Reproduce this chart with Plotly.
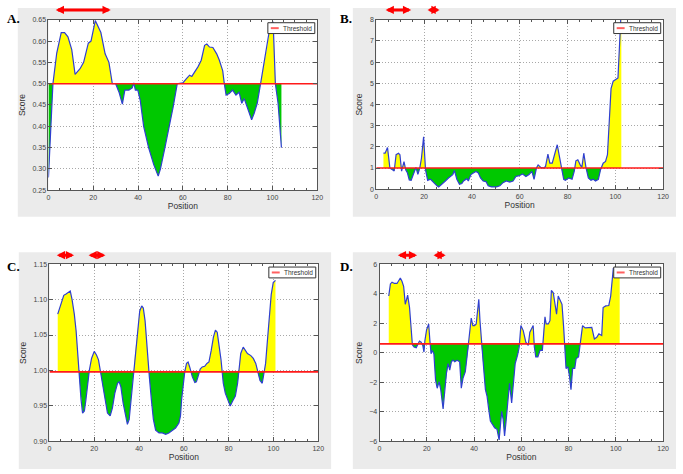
import plotly.graph_objects as go

# ---------------- data ----------------
posA = [0, 1, 2, 3.7, 5.7, 7.2, 8.7, 10.4, 11.9, 14.1, 15.7, 17.8, 19, 20.9, 23.4, 25.3, 27, 28.5,
        30, 31.5, 33, 34.1, 35.9, 37.4, 38.1, 38.8, 39.9, 41, 42.5, 44.7, 47, 49, 50, 52, 54.3,
        55.7, 57.5, 60, 61.6, 63, 64, 65.3, 66.8, 68.2, 69.7, 70.7, 71.9, 73.4, 75.1, 76.3, 77.8,
        78.5, 79.3, 80.7, 82.2, 83.7, 85.1, 86.3, 87.4, 88.4, 89.6, 90.7, 91.8, 93.2, 94.7, 96.2,
        97.6, 99.1, 100.3, 101.3, 102.5, 104]
scoreA = [0.28, 0.40, 0.50, 0.572, 0.62, 0.62, 0.61, 0.58, 0.522, 0.535, 0.55, 0.595, 0.60, 0.648,
          0.62, 0.57, 0.55, 0.50, 0.50, 0.48, 0.452, 0.485, 0.485, 0.49, 0.502, 0.485, 0.485, 0.46,
          0.40, 0.35, 0.31, 0.283, 0.30, 0.35, 0.407, 0.446, 0.50, 0.502, 0.512, 0.52, 0.517, 0.527,
          0.54, 0.555, 0.59, 0.593, 0.586, 0.585, 0.57, 0.555, 0.53, 0.50, 0.473, 0.477, 0.485,
          0.473, 0.48, 0.454, 0.465, 0.45, 0.43, 0.415, 0.43, 0.454, 0.50, 0.547, 0.585, 0.64,
          0.645, 0.50, 0.454, 0.35]
thresholdA = 0.50

posB = [3, 3.7, 4.7, 5.7, 6.8, 7.5, 8.3, 9.3, 9.9, 10.6, 11.6, 12.3, 13, 13.8, 14.6, 15.5, 16.6,
        17.4, 18.2, 18.9, 19.8, 20.6, 21.5, 22.7, 24, 25.4, 26.1, 27.5, 28.9, 30.2, 31.4, 32, 32.7,
        33.7, 34.8, 35.8, 36.5, 37.9, 38.5, 39.6, 40.6, 41.7, 42.7, 43.6, 44.7, 45.9, 46.8, 48.2,
        50.3, 51.7, 53, 54.4, 55.8, 57.2, 58.4, 59.8, 61.2, 62.6, 63.9, 65.1, 66, 67, 67.7, 68.8,
        70.1, 70.8, 71.8, 72.6, 73.6, 74.6, 75.7, 76.6, 77.4, 78.4, 79.1, 80.5, 81.9, 82.8, 83.5,
        84.3, 85.3, 86, 86.8, 87.7, 88.7, 89.8, 90.8, 91.7, 92.9, 93.8, 94.9, 95.9, 96.7, 97.5,
        98.2, 99.1, 101.1, 102.5]
scoreB = [1.7, 1.7, 1.97, 1.0, 0.92, 0.86, 1.63, 1.7, 1.63, 0.85, 1.3, 0.92, 0.78, 0.44, 0.42,
          0.7, 1.03, 0.7, 1.0, 1.46, 2.47, 0.92, 0.42, 0.47, 0.31, 0.16, 0.11, 0.23, 0.39, 0.53,
          0.61, 0.69, 0.88, 0.47, 0.23, 0.27, 0.39, 0.5, 0.39, 0.69, 0.77, 0.84, 0.77, 0.53, 0.39,
          0.36, 0.16, 0.11, 0.11, 0.16, 0.31, 0.39, 0.34, 0.39, 0.6, 0.64, 0.72, 0.6, 0.69, 0.84,
          0.47, 1.0, 1.15, 1.03, 1.0, 1.08, 1.66, 1.23, 1.23, 1.63, 2.1, 1.55, 1.0, 0.47, 0.42,
          0.53, 0.47, 0.84, 1.34, 1.39, 1.15, 1.03, 1.7, 1.03, 0.53, 0.42, 0.47, 0.39, 0.47, 0.92,
          1.23, 1.31, 1.63, 3.5, 4.75, 5.1, 5.25, 8.6]
thresholdB = 1.0

posC = [3.7, 5.2, 6.4, 7.4, 8.6, 9.3, 10.1, 11.1, 11.9, 12.6, 13.3, 14.1, 14.8, 15.6, 16.3, 17,
        17.8, 18.8, 20, 21, 21.9, 22.7, 23.7, 24.7, 25.9, 27.1, 28.1, 29.2, 30.4, 31.1, 31.9, 32.9,
        34.1, 34.8, 35.6, 36.3, 37.3, 38.2, 39.3, 40.3, 41.2, 41.9, 42.7, 43.7, 44.6, 45.5, 46.4,
        47.4, 48.9, 50.4, 51.9, 53.3, 54.8, 56.3, 57.8, 58.5, 59, 59.7, 60.4, 61.2, 61.9, 62.6,
        63.8, 64.9, 65.6, 66.3, 67.3, 68.2, 69.3, 70.3, 71.2, 72.2, 73.2, 74.1, 74.9, 75.6, 76.6,
        77.6, 78.5, 79.6, 80.7, 81.8, 83, 84, 84.7, 85.4, 86.5, 87.4, 88.4, 89.9, 91, 92.1, 93.1,
        94, 95, 95.7, 96.5, 97.2, 98, 99, 99.9, 100.9]
scoreC = [1.0795, 1.093, 1.106, 1.108, 1.111, 1.112, 1.100, 1.0795, 1.056, 1.024, 0.991, 0.959,
          0.94, 0.943, 0.959, 0.982, 1.0, 1.017, 1.027, 1.022, 1.015, 1.0, 0.98, 0.959, 0.94,
          0.936, 0.947, 0.968, 0.982, 0.984, 0.977, 0.954, 0.931, 0.924, 0.931, 0.954, 0.987,
          1.024, 1.061, 1.084, 1.091, 1.088, 1.07, 1.024, 0.991, 0.959, 0.931, 0.916, 0.912,
          0.912, 0.910, 0.912, 0.916, 0.919, 0.926, 0.936, 0.959, 0.982, 0.998, 1.01, 1.012,
          1.005, 0.991, 0.983, 0.984, 0.991, 1.002, 1.005, 1.006, 1.01, 1.012, 1.028, 1.047,
          1.057, 1.054, 1.038, 1.015, 0.982, 0.968, 0.959, 0.95, 0.957, 0.964, 0.982, 1.005,
          1.024, 1.033, 1.028, 1.024, 1.021, 1.017, 1.01, 0.996, 0.986, 0.982, 0.994, 1.01, 1.038,
          1.07, 1.107, 1.124, 1.127]
thresholdC = 0.998

posD = [3.9, 4.6, 5.3, 6.3, 7.4, 8.1, 8.8, 9.5, 10.2, 10.9, 11.9, 12.7, 13.2, 13.9, 14.6, 15.5,
        16, 16.9, 17.6, 18.3, 18.8, 19.2, 19.9, 20.8, 21.3, 21.8, 22.3, 23, 23.7, 24.4, 25.2,
        25.9, 26.9, 27.6, 28.3, 29, 29.7, 30.4, 31.1, 31.8, 32.8, 33.9, 34.6, 35.3, 36.3, 37,
        37.8, 38.8, 39.5, 40.2, 40.9, 41.6, 42, 42.5, 43.2, 43.9, 44.8, 45.5, 46.2, 46.9, 47.8,
        48.7, 49.7, 50.6, 51, 51.7, 52.3, 52.9, 53.5, 54.2, 55, 55.9, 56.6, 57.4, 58.4, 59.1,
        59.8, 60.8, 61.9, 62.9, 63.6, 64.4, 65, 65.5, 66.1, 67, 67.9, 68.9, 69.5, 70, 70.5, 71.4,
        72.1, 72.7, 73.5, 74.1, 74.9, 75.6, 76.5, 77.2, 77.9, 78.3, 78.9, 79.7, 80.4, 81, 81.7,
        82.6, 83.2, 84.2, 84.9, 85.9, 87, 88.4, 89.8, 90.9, 91.9, 92.8, 94, 94.6, 95.7, 97, 97.8,
        98.9, 99.5, 100.2, 101.6]
scoreD = [3.84, 4.66, 4.78, 4.69, 4.69, 4.84, 5.06, 4.84, 4.5, 3.28, 3.9, 3.06, 2.17, 0.54, 0.39,
          0.34, 0.5, 0.79, 0.72, 0.5, 0.05, 0.83, 1.55, 1.95, 0.83, -0.07, 0.16, -0.07, -1.84,
          -2.4, -1.95, -2.5, -3.8, -2.5, -1.39, -0.73, -1.17, -0.61, -0.5, -0.61, -0.5, -0.61,
          -2.4, -1.73, -1.28, -0.28, 0.83, 2.35, 1.84, 1.84, 1.95, 2.84, 3.62, 2.17, 0.39, -0.73,
          -2.5, -2.95, -3.84, -4.62, -4.85, -5.07, -5.18, -5.9, -5.18, -3.96, -4.51, -5.63, -4.7,
          -3.6, -2.06, -3.4, -2.06, -0.73, -0.16, 0.39, 1.84, 1.5, 0.72, 0.5, 1.39, 1.72, 1.84,
          0.39, -0.28, -0.28, 0.16, 0.16, 1.61, 2.43, 1.95, 1.95, 2.17, 4.22, 4.06, 3.39, 2.61,
          3.84, 3.5, 3.28, 1.72, 0.61, -1.06, -0.95, -1.62, -2.5, -1.06, -1.06, -0.39, -0.28,
          0.61, 1.84, 1.68, 1.68, 1.72, 0.94, 1.05, 1.28, 1.17, 3.06, 3.17, 3.2, 3.84, 5.69, 5.69,
          5.51, 5.51]
thresholdD = 0.6

# highlighted regions (double arrows above each panel)
arrowsA = [(2.6, 27.8)]
arrowsB = [(3.3, 14.6), (20.8, 26.5)]
arrowsC = [(2.6, 11.0), (16.8, 25.0)]
arrowsD = [(7.1, 15.9), (22.2, 28.0)]

panel_labels = ["A.", "B.", "C.", "D."]
y_ranges = [(0.25, 0.65), (0, 8), (0.90, 1.15), (-6, 6)]
y_dticks = [0.05, 1, 0.05, 2]
y_formats = [".2f", "d", ".2f", "d"]
x_range = (0, 120)

for p, s in [(posA, scoreA), (posB, scoreB), (posC, scoreC), (posD, scoreD)]:
    assert len(p) == len(s)

# ---------------- layout geometry (pixels) ----------------
W, H = 683, 474
plot_boxes = [(47, 16, 319, 189), (378.7, 16, 669, 188), (48, 264, 320, 444), (382, 264, 669, 444)]
bg_boxes = [(16, 4, 332, 216), (355, 4, 682, 216), (17, 252, 333, 472), (355, 252, 682, 472)]
label_xy = [(3, 15), (340, 15), (3, 266), (340, 266)]
arrow_y = [6, 6, 255, 255]

def fx(x):
    return x / W

def fy(y):
    return 1 - y / H

YELLOW = "#ffff00"
GREEN = "#00c800"
BLUE = "#2f3fd0"
RED = "#ff1a1a"
FRAME = "#555555"
GRID = "#a8a8a8"
TICKFONT = dict(family="Liberation Sans", size=7, color="#444444")
TITLEFONT = dict(family="Liberation Sans", size=8.5, color="#333333")


def split_at_threshold(xs, ys, t):
    X, Y = [xs[0]], [ys[0]]
    for i in range(1, len(xs)):
        x0, y0, x1, y1 = xs[i - 1], ys[i - 1], xs[i], ys[i]
        if (y0 - t) * (y1 - t) < 0:
            X.append(x0 + (t - y0) * (x1 - x0) / (y1 - y0))
            Y.append(t)
        X.append(x1)
        Y.append(y1)
    return X, [max(v, t) for v in Y], [min(v, t) for v in Y]


fig = go.Figure()
series = [(posA, scoreA, thresholdA, arrowsA), (posB, scoreB, thresholdB, arrowsB),
          (posC, scoreC, thresholdC, arrowsC), (posD, scoreD, thresholdD, arrowsD)]

shapes, annotations = [], []
for i, (pos, score, thr, arrows) in enumerate(series):
    k = "" if i == 0 else str(i + 1)
    xa, ya = "x" + k, "y" + k
    X, up, lo = split_at_threshold(pos, score, thr)
    base = [thr] * len(X)
    common = dict(xaxis=xa, yaxis=ya, hoverinfo="skip", showlegend=False, mode="lines")
    fig.add_trace(go.Scatter(x=X, y=base, line=dict(width=0), **common))
    fig.add_trace(go.Scatter(x=X, y=up, fill="tonexty", fillcolor=YELLOW, line=dict(width=0), **common))
    fig.add_trace(go.Scatter(x=X, y=base, line=dict(width=0), **common))
    fig.add_trace(go.Scatter(x=X, y=lo, fill="tonexty", fillcolor=GREEN, line=dict(width=0), **common))
    fig.add_trace(go.Scatter(x=pos, y=score, line=dict(color=BLUE, width=1.2), **common))
    fig.add_trace(go.Scatter(x=list(x_range), y=[thr, thr], name="Threshold",
                             line=dict(color=RED, width=1.6), **common))

    x0, y0, x1, y1 = plot_boxes[i]
    bx0, by0, bx1, by1 = bg_boxes[i]
    xaxis = dict(domain=[fx(x0), fx(x1)], anchor=ya, range=list(x_range), dtick=20, tick0=0,
                 showgrid=True, gridcolor=GRID, griddash="1px,2px", gridwidth=1,
                 showline=True, linecolor=FRAME, linewidth=1, mirror="ticks",
                 ticks="inside", ticklen=4, tickcolor=FRAME, tickfont=TICKFONT, zeroline=False,
                 minor=dict(ticks="inside", ticklen=2, dtick=5, tickcolor=FRAME, showgrid=False),
                 title=dict(text="Position", font=TITLEFONT, standoff=3))
    yaxis = dict(domain=[fy(y1), fy(y0)], anchor=xa, range=list(y_ranges[i]), dtick=y_dticks[i],
                 tickformat=y_formats[i],
                 showgrid=True, gridcolor=GRID, griddash="1px,2px", gridwidth=1,
                 showline=True, linecolor=FRAME, linewidth=1, mirror="ticks",
                 ticks="inside", ticklen=4, tickcolor=FRAME, tickfont=TICKFONT, zeroline=False,
                 title=dict(text="Score", font=TITLEFONT, standoff=5))
    fig.update_layout(**{"xaxis" + k: xaxis, "yaxis" + k: yaxis})

    # panel gray background, then white plotting area on top of it
    shapes.append(dict(type="rect", xref="paper", yref="paper", x0=fx(bx0), x1=fx(bx1),
                       y0=fy(by1), y1=fy(by0), fillcolor="#ebebeb", line=dict(width=0), layer="below"))
    shapes.append(dict(type="rect", xref="paper", yref="paper", x0=fx(x0), x1=fx(x1),
                       y0=fy(y1), y1=fy(y0), fillcolor="white", line=dict(width=0), layer="below"))
    # manual legend box (top right of plot)
    lx1, lx0 = x1 - 2.5, x1 - 50
    ly0, ly1 = y0 + 3, y0 + 14
    shapes.append(dict(type="rect", xref="paper", yref="paper", x0=fx(lx0), x1=fx(lx1),
                       y0=fy(ly1), y1=fy(ly0), fillcolor="white", line=dict(color="#333333", width=1)))
    shapes.append(dict(type="line", xref="paper", yref="paper", x0=fx(lx0 + 3), x1=fx(lx0 + 11),
                       y0=fy((ly0 + ly1) / 2), y1=fy((ly0 + ly1) / 2), line=dict(color="#ff6060", width=2)))
    annotations.append(dict(text="Threshold", xref="paper", yref="paper", x=fx(lx1 - 2),
                            y=fy((ly0 + ly1) / 2), xanchor="right", yanchor="middle", showarrow=False,
                            borderpad=0,
                            font=dict(family="Liberation Sans", size=6.5, color="#333333")))
    # panel label
    lxp, lyp = label_xy[i]
    annotations.append(dict(text="<b>" + panel_labels[i] + "</b>", xref="paper", yref="paper",
                            x=fx(lxp), y=fy(lyp), xanchor="left", yanchor="middle", showarrow=False,
                            font=dict(family="Liberation Serif", size=13, color="black")))
    # double arrows marking regions
    for (a, b) in arrows:
        annotations.append(dict(text="", x=b, y=fy(arrow_y[i]), xref=xa, yref="paper",
                                ax=a, ay=0, axref=xa, ayref="pixel", showarrow=True,
                                arrowhead=2, startarrowhead=2, arrowside="end+start",
                                arrowsize=0.55, startarrowsize=0.55, arrowwidth=3, arrowcolor="red",
                                standoff=0, startstandoff=0))

fig.update_layout(width=W, height=H, margin=dict(l=0, r=0, t=0, b=0),
                  paper_bgcolor="white", plot_bgcolor="white", showlegend=False,
                  shapes=shapes, annotations=annotations)

fig.write_html("out.html", config={"displayModeBar": False},
               post_script="document.body.style.margin='0';")
